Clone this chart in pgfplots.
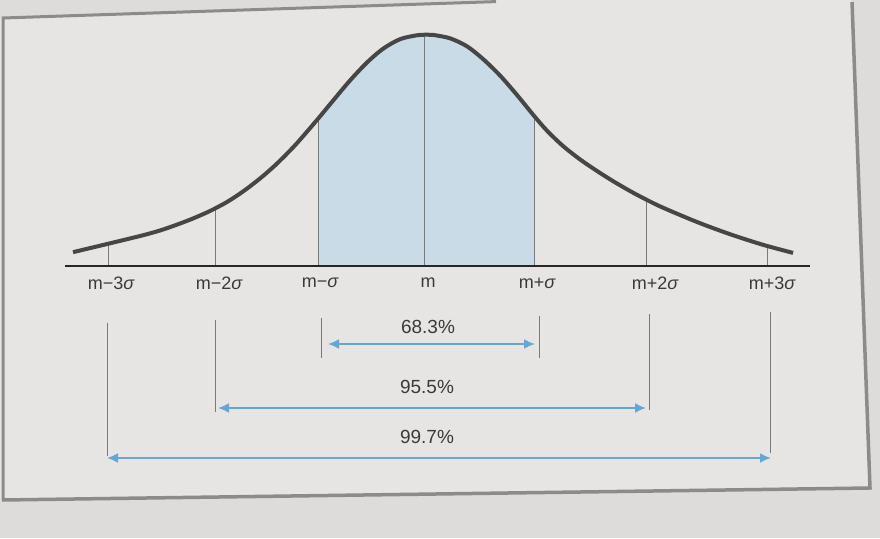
\documentclass[border=0pt]{standalone}
\usepackage{fontspec}
\setmainfont{Liberation Sans}
\usepackage{pgfplots}
\pgfplotsset{compat=1.18}
\usetikzlibrary{arrows.meta}
\definecolor{bg}{HTML}{DDDCDA}
\definecolor{paper}{HTML}{E6E5E3}
\definecolor{frame}{HTML}{8C8B89}
\definecolor{fillblue}{HTML}{C9DBE7}
\definecolor{arrowblue}{HTML}{66A6D2}
\definecolor{curvec}{HTML}{474646}
\definecolor{txt}{HTML}{3A3A3A}
\definecolor{vline}{HTML}{7A7A7A}
\pgfplotstableread{
x h
73 13.8
93 18.6
108 22.2
127 26.8
144 31
160 35.5
176 41
193 47.5
210 55
227 64
243 74.5
260 87.5
276 101.5
293 118.5
305 132
318 147.2
333 165.3
350 185.5
367 203.5
383 217.2
400 226.8
417 230.7
427 231.3
433 231.1
450 227.7
467 219.7
483 207
500 190.5
517 171
534 150.2
547 135.3
563 120
580 106.6
597 95
613 84.9
630 75
646 66.5
663 58.3
697 44
730 31.8
763 21.2
793 13.1
}\curvedata
\pgfplotstableread{
x h
318 147.2
333 165.3
350 185.5
367 203.5
383 217.2
400 226.8
417 230.7
427 231.3
433 231.1
450 227.7
467 219.7
483 207
500 190.5
517 171
534 150.2
}\shadedata
\begin{document}
\begin{tikzpicture}
\fill[bg] (0,0) rectangle (880pt,538pt);
\fill[paper] (3pt,520pt) -- (500pt,538pt) -- (852pt,538pt) -- (870pt,50pt) -- (0pt,38pt) -- (0pt,520pt) -- cycle;
\draw[frame, line width=3pt] (3pt,38pt) -- (3pt,520pt) -- (496pt,536.4pt);
\draw[frame, line width=3.5pt] (852pt,536pt) -- (870pt,50pt) -- (2pt,38pt);
\begin{axis}[width=880pt,height=538pt,scale only axis,hide axis,
  xmin=0,xmax=880,ymin=-272,ymax=266,clip=true]
% shaded area within one sigma
\addplot[fill=fillblue, draw=none, smooth] table[x=x,y=h] {\shadedata} \closedcycle;
% vertical lines under curve
\addplot[vline, line width=0.8pt] coordinates {(108,0) (108,22)};
\addplot[vline, line width=0.8pt] coordinates {(215,0) (215,57)};
\addplot[vline, line width=0.8pt] coordinates {(318,0) (318,147)};
\addplot[vline, line width=0.8pt] coordinates {(424,0) (424,231)};
\addplot[vline, line width=0.8pt] coordinates {(534,0) (534,150)};
\addplot[vline, line width=0.8pt] coordinates {(646,0) (646,66)};
\addplot[vline, line width=0.8pt] coordinates {(767,0) (767,20)};
\addplot[curvec, line width=4pt, smooth] table[x=x,y=h] {\curvedata};
\addplot[black!85, line width=2.6pt] coordinates {(65,0) (810,0)};
% tick labels
\begin{scope}[every node/.style={font=\fontsize{18}{20}\selectfont, text=txt}]
\node at (axis cs:111,-17) {m−3{\itshape σ}};
\node at (axis cs:219,-17) {m−2{\itshape σ}};
\node at (axis cs:320,-17) {m−{\itshape σ}};
\node at (axis cs:428,-17) {m};
\node at (axis cs:537,-17) {m+{\itshape σ}};
\node at (axis cs:655,-17) {m+2{\itshape σ}};
\node at (axis cs:772,-17) {m+3{\itshape σ}};
\end{scope}
% lower vertical lines
\addplot[vline, line width=0.8pt] coordinates {(321,-52) (321,-92)};
\addplot[vline, line width=0.8pt] coordinates {(539,-50) (539,-92)};
\addplot[vline, line width=0.8pt] coordinates {(215,-54) (215,-146)};
\addplot[vline, line width=0.8pt] coordinates {(649,-48) (649,-144)};
\addplot[vline, line width=0.8pt] coordinates {(107,-57) (107,-190)};
\addplot[vline, line width=0.8pt] coordinates {(770,-46) (770,-187)};
% arrows
\addplot[arrowblue, line width=2pt, {Latex[length=11pt,width=10pt]}-{Latex[length=11pt,width=10pt]}] coordinates {(328,-78) (535,-78)};
\addplot[arrowblue, line width=2pt, {Latex[length=11pt,width=10pt]}-{Latex[length=11pt,width=10pt]}] coordinates {(218,-142) (646,-142)};
\addplot[arrowblue, line width=2pt, {Latex[length=11pt,width=10pt]}-{Latex[length=11pt,width=10pt]}] coordinates {(107,-192) (771,-192)};
\begin{scope}[every node/.style={font=\fontsize{19}{21}\selectfont, text=txt}]
\node at (axis cs:428,-61) {68.3\%};
\node at (axis cs:427,-121) {95.5\%};
\node at (axis cs:427,-171) {99.7\%};
\end{scope}
\end{axis}
\end{tikzpicture}
\end{document}
